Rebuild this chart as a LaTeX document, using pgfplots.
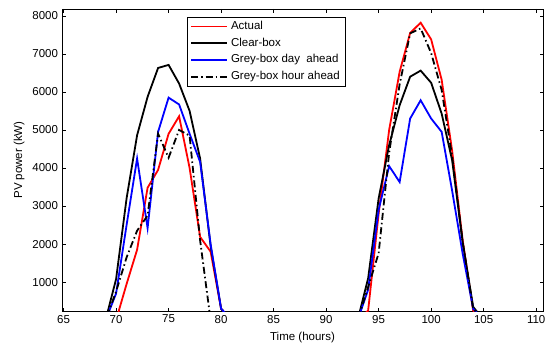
\documentclass[border=0pt]{standalone}
\usepackage{fontspec}
\setmainfont{Liberation Sans}
\usepackage{pgfplots}
\pgfplotsset{compat=1.18}
\begin{document}
\fontsize{11.5bp}{13bp}\selectfont
\begin{tikzpicture}
\begin{axis}[name=ax, scale only axis, width=481bp, height=302bp,
  xmin=64.85, xmax=110.65, ymin=240, ymax=8180,
  xtick={65,70,...,110}, ytick={1000,2000,...,8000},
  scaled ticks=false,
  tick align=inside, major tick length=3.5bp,
  tick style={black, line width=0.6bp},
  axis line style={line width=0.8bp},
  /pgf/number format/assume math mode=true,
  /pgf/number format/1000 sep={},
  ticklabel style={font=\fontsize{11.5bp}{13bp}\selectfont},
  xlabel={Time (hours)}, ylabel={PV power (kW)},
  label style={font=\fontsize{11.5bp}{13bp}\selectfont},
  xlabel style={yshift=-1bp},
  legend cell align=left,
  legend style={at={(rel axis cs:0.26,0.9735)}, anchor=north west,
    draw=black, fill=white,
    font=\fontsize{11.5bp}{13bp}\selectfont,
    inner xsep=3bp, inner ysep=1bp, row sep=0pt, column sep=1bp,
    nodes={text height=8.5bp, text depth=2.5bp, inner ysep=2.85bp}},
  legend image code/.code={\draw[line width=1.8bp,#1] (0bp,0bp) -- (36bp,0bp);},
]
\addplot[red, line width=1.8bp] coordinates {(68,0) (69,0) (70,0) (71,950) (72,1850) (73,3480) (74,3950) (75,4900) (76,5360) (77,4000) (78,2190) (79,1800) (80,300) (81,0) (92,0) (93,0) (94,250) (95,2800) (96,5000) (97,6530) (98,7550) (99,7820) (100,7380) (101,6320) (102,4450) (103,2100) (104,250) (105,0) (106,0)};
\addlegendentry{Actual}
\addplot[black, line width=1.8bp] coordinates {(68,0) (69,0) (70,1080) (71,3200) (72,4860) (73,5870) (74,6630) (75,6710) (76,6220) (77,5500) (78,4250) (79,1950) (80,300) (81,0) (92,0) (93,0) (94,1100) (95,3200) (96,4600) (97,5650) (98,6400) (99,6560) (100,6240) (101,5430) (102,4200) (103,2050) (104,350) (105,0) (106,0)};
\addlegendentry{Clear-box}
\addplot[blue, line width=1.8bp] coordinates {(68,0) (69,0) (70,700) (71,2500) (72,4250) (73,2420) (74,4950) (75,5850) (76,5670) (77,4900) (78,4160) (79,2000) (80,300) (81,0) (92,0) (93,0) (94,800) (95,2900) (96,4050) (97,3630) (98,5300) (99,5780) (100,5300) (101,4950) (102,3400) (103,1750) (104,300) (105,0) (106,0)};
\addlegendentry{Grey-box day\ \ ahead}
\addplot[black, line width=1.8bp, dash pattern=on 7bp off 3bp on 1.5bp off 3bp] coordinates {(68,0) (69,0) (70,750) (71,1650) (72,2350) (73,2750) (74,4900) (75,4270) (76,5000) (77,4850) (78,2100) (79,0) (80,0) (81,0) (92,0) (93,0) (94,870) (95,1760) (96,4400) (97,6200) (98,7540) (99,7670) (100,7020) (101,6050) (102,4300) (103,2050) (104,300) (105,0) (106,0)};
\addlegendentry{Grey-box hour ahead}
\end{axis}
\pgfresetboundingbox
\path ([xshift=-62bp,yshift=-33bp]ax.south west) rectangle ([xshift=2bp,yshift=9bp]ax.north east);
\end{tikzpicture}
\end{document}
